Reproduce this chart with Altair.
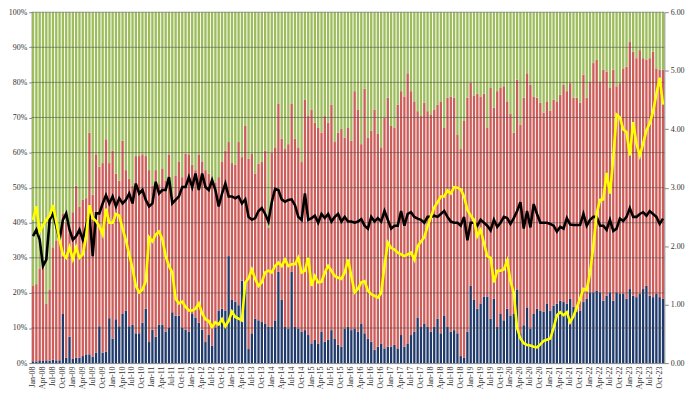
import altair as alt
import pandas as pd

month_names = ["Jan", "Feb", "Mar", "Apr", "May", "Jun", "Jul", "Aug", "Sep", "Oct", "Nov", "Dec"]
years = list(range(8, 24))
months = [f"{m}-{y:02d}" for y in years for m in month_names][:191]   # Jan-08 .. Nov-23
quarter_labels = months[::3]

# share of the bottom (dark blue) segment, %
blue_pct = [
    0.5, 0.5, 0.8, 0.6, 0.8, 0.7, 1.0, 0.8, 0.8, 14.0, 1.5, 7.5,
    1.2, 1.5, 1.5, 2.0, 2.5, 2.5, 1.8, 3.0, 10.5, 3.0, 3.3, 12.8,
    7.0, 12.5, 10.5, 14.0, 15.0, 10.5, 11.0, 8.5, 8.5, 11.5, 15.5, 6.0,
    9.5, 7.5, 11.0, 11.0, 9.0, 10.0, 14.5, 13.5, 13.5, 10.0, 9.5, 9.0,
    14.0, 13.0, 11.5, 9.5, 6.0, 8.0, 5.0, 10.0, 15.0, 15.5, 15.0, 30.5,
    18.0, 17.5, 16.5, 23.5, 23.0, 4.0, 8.5, 12.7, 12.2, 11.7, 11.3, 10.3,
    10.3, 12.0, 26.0, 18.0, 10.3, 9.9, 26.0, 10.3, 9.9, 9.0, 9.4, 8.0,
    5.6, 6.6, 5.6, 9.0, 6.1, 6.6, 9.4, 7.0, 5.2, 4.7, 9.9, 10.3,
    9.4, 9.9, 9.0, 11.3, 8.5, 7.0, 6.1, 3.8, 4.7, 5.6, 4.2, 4.7,
    4.7, 5.2, 4.2, 8.0, 4.7, 5.6, 8.0, 9.0, 13.0, 10.3, 11.3, 10.3,
    9.0, 10.3, 12.7, 8.5, 13.6, 10.3, 9.0, 9.4, 8.5, 2.0, 1.5, 9.0,
    22.0, 18.0, 15.5, 17.0, 19.0, 19.0, 12.7, 18.3, 10.3, 14.0, 12.2, 15.5,
    13.6, 14.0, 21.0, 8.5, 10.8, 15.9, 9.9, 14.0, 15.5, 15.0, 14.6, 17.0,
    15.0, 16.4, 16.9, 17.8, 17.4, 16.9, 18.3, 16.0, 14.6, 15.0, 17.4, 18.3,
    20.2, 20.2, 20.7, 20.2, 17.8, 19.2, 20.2, 17.8, 20.2, 19.7, 19.7, 18.3,
    21.1, 19.2, 18.8, 19.7, 21.1, 22.0, 19.2, 18.8, 19.7, 18.8, 18.3,
]

# cumulative share of blue + red segments, % (rest is green)
blue_red_pct = [
    22.0, 22.5, 27.0, 28.0, 17.0, 21.0, 33.0, 35.0, 38.0, 42.5, 40.0, 37.0,
    43.0, 50.5, 44.5, 46.5, 47.0, 65.7, 48.0, 59.5, 56.0, 57.0, 63.8, 57.0,
    60.5, 54.0, 52.0, 63.4, 55.0, 52.5, 50.5, 59.0, 59.0, 59.5, 59.0, 55.0,
    50.5, 55.0, 51.0, 55.5, 52.0, 59.5, 47.5, 53.5, 57.5, 53.0, 59.7, 59.5,
    56.5, 55.0, 59.5, 57.5, 55.0, 54.0, 52.5, 51.5, 53.0, 57.5, 60.5, 63.0,
    57.0, 56.5, 63.0, 58.7, 67.6, 58.2, 59.6, 54.0, 56.8, 57.3, 60.6, 38.5,
    60.0, 61.5, 74.0, 64.0, 61.0, 62.4, 74.0, 64.0, 61.5, 57.3, 75.0, 70.4,
    72.3, 68.5, 67.0, 65.7, 70.4, 68.5, 73.7, 63.0, 65.7, 66.7, 64.3, 67.0,
    63.4, 77.5, 72.3, 62.4, 78.2, 64.3, 66.2, 72.3, 65.3, 61.5, 69.9, 75.6,
    67.6, 67.0, 73.7, 77.5, 76.0, 82.6, 77.5, 74.6, 71.8, 70.4, 74.2, 71.8,
    70.9, 72.3, 73.7, 74.6, 67.0, 75.6, 76.0, 75.6, 65.0, 61.0, 69.0, 75.6,
    80.0, 76.3, 76.8, 76.0, 76.8, 67.0, 78.4, 72.8, 77.5, 78.4, 78.9, 74.6,
    71.0, 65.7, 80.8, 68.0, 75.6, 82.6, 79.3, 76.0, 75.6, 74.2, 71.4, 74.6,
    72.0, 75.1, 74.6, 76.5, 79.3, 77.5, 79.8, 75.6, 75.6, 74.2, 82.2, 75.6,
    80.3, 85.5, 86.4, 80.3, 83.6, 83.1, 78.4, 83.6, 78.9, 79.8, 84.0, 84.5,
    91.5, 88.7, 86.9, 89.2, 86.9, 86.4, 86.9, 88.7, 84.0, 83.6, 83.6,
]

# right-axis lines
black_line = [
    2.17, 2.28, 2.11, 1.66, 1.77, 2.45, 2.56, 2.34, 2.11, 2.45, 2.56, 2.28,
    2.11, 2.17, 2.28, 2.11, 2.34, 2.56, 1.83, 2.56, 2.56, 2.73, 2.87, 2.73,
    2.85, 2.68, 2.82, 2.73, 2.79, 2.90, 2.73, 3.07, 2.90, 2.96, 2.79, 2.68,
    2.73, 3.10, 2.90, 2.96, 2.96, 3.18, 2.73, 2.79, 2.85, 3.01, 3.01, 3.18,
    3.01, 3.24, 2.96, 3.24, 3.01, 2.96, 3.13, 2.96, 2.68, 2.90, 3.07, 2.85,
    2.85, 2.82, 2.85, 2.73, 2.80, 2.50, 2.45, 2.48, 2.60, 2.65, 2.55, 2.42,
    2.75, 2.98, 2.96, 2.80, 2.76, 2.79, 2.80, 2.70, 2.50, 2.45, 2.90, 2.45,
    2.48, 2.52, 2.40, 2.55, 2.48, 2.55, 2.42, 2.50, 2.55, 2.42, 2.50, 2.42,
    2.42, 2.40, 2.42, 2.46, 2.35, 2.30, 2.50, 2.42, 2.48, 2.42, 2.60, 2.45,
    2.30, 2.35, 2.35, 2.60, 2.35, 2.55, 2.58, 2.50, 2.47, 2.45, 2.40, 2.50,
    2.50, 2.52, 2.50, 2.55, 2.60, 2.50, 2.42, 2.40, 2.40, 2.35, 2.50, 2.10,
    2.40, 2.40, 2.35, 2.45, 2.40, 2.35, 2.27, 2.45, 2.33, 2.40, 2.50, 2.48,
    2.38, 2.48, 2.60, 2.75, 2.30, 2.60, 2.32, 2.72, 2.55, 2.40, 2.40, 2.40,
    2.38, 2.35, 2.25, 2.33, 2.30, 2.48, 2.37, 2.36, 2.36, 2.36, 2.55, 2.35,
    2.45, 2.50, 2.50, 2.35, 2.35, 2.28, 2.45, 2.26, 2.30, 2.47, 2.43, 2.50,
    2.65, 2.50, 2.50, 2.55, 2.58, 2.52, 2.60, 2.55, 2.50, 2.38, 2.47,
]

yellow_line = [
    2.45, 2.68, 2.25, 2.35, 2.45, 2.52, 2.70, 2.42, 2.10, 1.86, 1.80, 1.98,
    1.78, 1.98, 1.80, 1.86, 2.16, 2.70, 2.48, 2.43, 2.34, 2.20, 2.64, 2.40,
    2.40, 2.55, 2.52, 2.30, 2.10, 1.86, 1.62, 1.32, 1.21, 1.26, 1.40, 2.15,
    2.08, 2.20, 2.25, 2.12, 1.83, 1.66, 1.55, 1.10, 1.02, 1.05, 0.96, 0.90,
    0.90, 0.93, 1.02, 0.85, 0.75, 0.72, 0.62, 0.70, 0.66, 0.75, 0.63, 0.72,
    0.88, 0.79, 0.76, 0.73, 1.38, 1.45, 1.60, 1.44, 1.32, 1.38, 1.55, 1.58,
    1.55, 1.66, 1.72, 1.66, 1.77, 1.66, 1.69, 1.69, 1.80, 1.55, 1.58, 1.80,
    1.32, 1.49, 1.38, 1.39, 1.55, 1.66, 1.58, 1.49, 1.46, 1.44, 1.55, 1.77,
    1.49, 1.21, 1.27, 1.38, 1.40, 1.24, 1.18, 1.15, 1.12, 1.20, 1.66, 2.06,
    1.97, 1.94, 1.89, 1.86, 1.83, 1.86, 1.89, 1.77, 2.00, 2.08, 2.15, 2.34,
    2.50, 2.66, 2.75, 2.85, 2.85, 2.95, 2.90, 3.01, 3.00, 2.97, 2.85, 2.62,
    2.52, 2.45, 2.17, 2.28, 2.05, 1.83, 1.80, 1.38, 1.58, 1.58, 1.60, 1.75,
    1.40, 1.20, 0.60, 0.42, 0.34, 0.31, 0.30, 0.28, 0.27, 0.32, 0.38, 0.40,
    0.42, 0.60, 0.82, 0.87, 0.82, 0.87, 0.70, 0.80, 0.95, 1.10, 1.27, 1.25,
    1.55, 2.00, 2.56, 2.79, 2.80, 3.25, 2.90, 3.50, 4.25, 4.20, 4.00, 3.95,
    3.55, 4.12, 3.75, 3.55, 3.75, 3.98, 4.10, 4.30, 4.60, 4.88, 4.42,
]

series_colors = {"Blue": "#1f3a6b", "Red": "#cd5d5a", "Green": "#9dbc5c"}

rows = []
for i, m in enumerate(months):
    b = blue_pct[i] / 100.0
    t = blue_red_pct[i] / 100.0
    rows.append({"month": m, "series": "Blue", "lo": 0.0, "hi": b})
    rows.append({"month": m, "series": "Red", "lo": b, "hi": t})
    rows.append({"month": m, "series": "Green", "lo": t, "hi": 1.0})
bars_df = pd.DataFrame(rows)

lines_df = pd.DataFrame({
    "month": months + months,
    "series": ["Black"] * len(months) + ["Yellow"] * len(months),
    "value": black_line + yellow_line,
})

grid_df = pd.DataFrame({"v": [i / 10 for i in range(1, 11)]})

FONT = "Liberation Serif"

x_enc = alt.X(
    "month:N",
    sort=months,
    scale=alt.Scale(paddingInner=0.3, paddingOuter=0.05),
    axis=alt.Axis(
        values=quarter_labels, labelAngle=-90, title=None, ticks=False,
        labelFont=FONT, labelFontSize=8, labelColor="#333333", labelPadding=3,
        domainColor="#888888", labelOverlap=False,
    ),
)

left_scale = alt.Scale(domain=[0, 1], nice=False)

bars = alt.Chart(bars_df).mark_bar().encode(
    x=x_enc,
    y=alt.Y(
        "lo:Q", scale=left_scale,
        axis=alt.Axis(
            format="%", values=[i / 10 for i in range(11)], title=None,
            labelFont=FONT, labelFontSize=8, labelColor="#333333",
            grid=False, tickSize=3, tickColor="#888888", domainColor="#888888",
        ),
    ),
    y2="hi:Q",
    color=alt.Color(
        "series:N",
        scale=alt.Scale(domain=list(series_colors.keys()), range=list(series_colors.values())),
        legend=None,
    ),
)

grid = alt.Chart(grid_df).mark_rule(color="#4a4a4a", strokeWidth=1, opacity=0.55).encode(
    y=alt.Y("v:Q", scale=left_scale, axis=None)
)

lines = alt.Chart(lines_df).mark_line(strokeWidth=2.6).encode(
    x=alt.X("month:N", sort=months),
    y=alt.Y(
        "value:Q",
        scale=alt.Scale(domain=[0, 6], nice=False),
        axis=alt.Axis(
            orient="right", values=[0, 1, 2, 3, 4, 5, 6], format=".2f", title=None,
            labelFont=FONT, labelFontSize=8, labelColor="#333333",
            grid=False, tickSize=4, tickColor="#888888", domainColor="#888888",
        ),
    ),
    color=alt.Color(
        "series:N",
        scale=alt.Scale(domain=["Black", "Yellow"], range=["#000000", "#ffff00"]),
        legend=None,
    ),
    order=alt.Order("series:N"),
)

chart = (
    alt.layer(bars, grid, lines)
    .resolve_scale(y="independent", color="independent")
    .properties(
        width=640,
        height=355,
        padding={"left": 24, "top": 2, "right": 28, "bottom": 29},
        autosize=alt.AutoSizeParams(type="none"),
    )
    .configure_view(strokeWidth=0)
)

chart.save("out.html", embed_options={"renderer": "svg", "actions": False})
